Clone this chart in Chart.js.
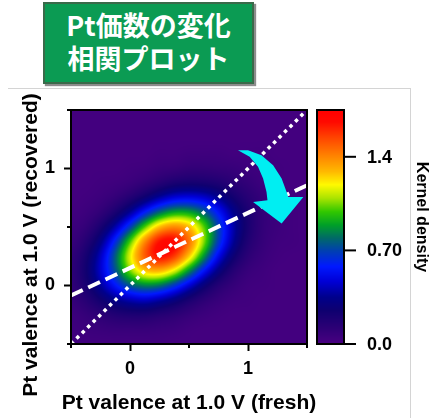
<!DOCTYPE html>
<html>
<head>
<meta charset="utf-8">
<script src="https://cdn.jsdelivr.net/npm/chart.js@4.4.0/dist/chart.umd.min.js"></script>
<style>
  html, body { margin: 0; padding: 0; background: #fff; }
  #wrap { position: relative; width: 436px; height: 418px; overflow: hidden; }
  #frame { position: absolute; left: 8px; top: 88px; width: 402px; height: 340px;
           border-top: 1px solid #d4d4d4; border-right: 1px solid #d4d4d4; }
  #title { position: absolute; left: 43px; top: 2px; width: 211px; height: 82px; box-sizing: border-box;
           background: #0b9b53; border: 2px solid #3a6a4a; box-shadow: 2px 2px 1px #8c8c8c;
           color: #fff; font: bold 27px "Noto Sans CJK JP", sans-serif; text-align: center;
           line-height: 33px; padding-top: 4px; }
  canvas { position: absolute; left: 0; top: 0; }
</style>
</head>
<body>
<div id="wrap">
  <div id="frame"></div>
  <div id="title">Pt価数の変化<br>相関プロット</div>
  <canvas id="kdeChart" width="436" height="418"></canvas>
</div>
<script>
// density grid (Kernel density), rows go from y = -0.5 (bottom) to y = 1.5 (top)
const gridX = [-0.5, -0.375, -0.25, -0.125, 0, 0.125, 0.25, 0.375, 0.5, 0.625, 0.75, 0.875, 1, 1.125, 1.25, 1.375, 1.5];
const gridY = [-0.5, -0.375, -0.25, -0.125, 0, 0.125, 0.25, 0.375, 0.5, 0.625, 0.75, 0.875, 1, 1.125, 1.25, 1.375, 1.5];
const density = [
    [0.04, 0.04, 0.04, 0.04, 0.04, 0.04, 0.04, 0.03, 0.03, 0.03, 0.03, 0.03, 0.03, 0.03, 0.03, 0.03, 0.03],
    [0.05, 0.06, 0.07, 0.08, 0.08, 0.08, 0.07, 0.06, 0.04, 0.03, 0.03, 0.03, 0.03, 0.03, 0.03, 0.03, 0.03],
    [0.06, 0.09, 0.13, 0.17, 0.19, 0.19, 0.16, 0.13, 0.09, 0.06, 0.04, 0.03, 0.03, 0.03, 0.03, 0.03, 0.03],
    [0.09, 0.15, 0.24, 0.34, 0.41, 0.44, 0.39, 0.31, 0.21, 0.13, 0.08, 0.05, 0.04, 0.03, 0.03, 0.03, 0.03],
    [0.11, 0.21, 0.37, 0.56, 0.74, 0.83, 0.80, 0.66, 0.47, 0.29, 0.16, 0.09, 0.05, 0.04, 0.03, 0.03, 0.03],
    [0.12, 0.24, 0.45, 0.73, 1.04, 1.26, 1.30, 1.15, 0.86, 0.56, 0.32, 0.16, 0.08, 0.05, 0.03, 0.03, 0.03],
    [0.11, 0.22, 0.43, 0.76, 1.15, 1.49, 1.65, 1.56, 1.26, 0.87, 0.51, 0.27, 0.13, 0.07, 0.04, 0.03, 0.03],
    [0.08, 0.16, 0.33, 0.62, 1.00, 1.39, 1.65, 1.67, 1.44, 1.06, 0.67, 0.37, 0.18, 0.09, 0.05, 0.04, 0.03],
    [0.06, 0.10, 0.21, 0.40, 0.68, 1.01, 1.29, 1.39, 1.29, 1.02, 0.69, 0.40, 0.21, 0.10, 0.06, 0.04, 0.03],
    [0.04, 0.06, 0.11, 0.21, 0.37, 0.59, 0.79, 0.91, 0.90, 0.77, 0.56, 0.35, 0.20, 0.10, 0.06, 0.04, 0.03],
    [0.03, 0.04, 0.06, 0.10, 0.17, 0.27, 0.39, 0.48, 0.50, 0.46, 0.36, 0.24, 0.15, 0.09, 0.05, 0.04, 0.03],
    [0.03, 0.03, 0.04, 0.05, 0.07, 0.11, 0.16, 0.21, 0.23, 0.22, 0.19, 0.14, 0.10, 0.06, 0.04, 0.03, 0.03],
    [0.03, 0.03, 0.03, 0.03, 0.04, 0.05, 0.07, 0.08, 0.10, 0.10, 0.09, 0.08, 0.06, 0.05, 0.04, 0.03, 0.03],
    [0.03, 0.03, 0.03, 0.03, 0.03, 0.03, 0.04, 0.04, 0.05, 0.05, 0.05, 0.04, 0.04, 0.04, 0.03, 0.03, 0.03],
    [0.03, 0.03, 0.03, 0.03, 0.03, 0.03, 0.03, 0.03, 0.03, 0.03, 0.03, 0.03, 0.03, 0.03, 0.03, 0.03, 0.03],
    [0.03, 0.03, 0.03, 0.03, 0.03, 0.03, 0.03, 0.03, 0.03, 0.03, 0.03, 0.03, 0.03, 0.03, 0.03, 0.03, 0.03],
    [0.03, 0.03, 0.03, 0.03, 0.03, 0.03, 0.03, 0.03, 0.03, 0.03, 0.03, 0.03, 0.03, 0.03, 0.03, 0.03, 0.03]
];

// y = x reference (dotted) and fitted line (dashed)
const diagX = [-0.5, 1.5];
const diagY = [-0.5, 1.5];
const fitX = [-0.5, 1.5];
const fitY = [-0.086, 0.857];

// curved arrow outline, in data units
const arrowX = [0.915, 1.0, 1.114, 1.213, 1.285, 1.327, 1.341, 1.469, 1.285, 1.043, 1.165, 1.157, 1.128, 1.085, 1.014];
const arrowY = [1.157, 1.157, 1.114, 1.028, 0.914, 0.8, 0.757, 0.757, 0.529, 0.714, 0.728, 0.8, 0.914, 1.014, 1.1];

// colour bar
const cbarMax = 1.75;
const cbarTicks = [0, 0.7, 1.4];
const cbarLabels = ['0.0', '0.70', '1.4'];
const cmapStops = [0, 0.12, 0.25, 0.35, 0.47, 0.58, 0.70, 0.79, 0.89, 0.99, 1.09, 1.19, 1.29, 1.41, 1.54, 1.66, 1.75];
const cmapColors = [[74, 0, 130], [45, 0, 118], [15, 0, 112], [0, 0, 140], [0, 0, 215], [0, 25, 255], [0, 65, 175],
    [0, 105, 105], [0, 160, 40], [50, 200, 0], [170, 228, 0], [255, 250, 0], [255, 185, 0], [255, 130, 0],
    [255, 70, 0], [255, 10, 0], [255, 0, 0]];

const FONT = 'Liberation Sans, Arial, sans-serif';

function colorAt(v) {
    if (v <= cmapStops[0]) return cmapColors[0];
    for (let i = 1; i < cmapStops.length; i++) {
        if (v <= cmapStops[i]) {
            const t = (v - cmapStops[i - 1]) / (cmapStops[i] - cmapStops[i - 1]);
            const a = cmapColors[i - 1], b = cmapColors[i];
            return [a[0] + (b[0] - a[0]) * t, a[1] + (b[1] - a[1]) * t, a[2] + (b[2] - a[2]) * t];
        }
    }
    return cmapColors[cmapColors.length - 1];
}

function cubic(p0, p1, p2, p3, t) {
    return p1 + 0.5 * t * (p2 - p0 + t * (2 * p0 - 5 * p1 + 4 * p2 - p3 + t * (3 * (p1 - p2) + p3 - p0)));
}

// smooth lookup in the density grid
function densityAt(vx, vy) {
    const n = gridX.length, m = gridY.length;
    const fx = (vx - gridX[0]) / (gridX[1] - gridX[0]);
    const fy = (vy - gridY[0]) / (gridY[1] - gridY[0]);
    const i = Math.min(Math.max(Math.floor(fx), 0), n - 2);
    const j = Math.min(Math.max(Math.floor(fy), 0), m - 2);
    const tx = fx - i, ty = fy - j;
    const cl = (k, max) => Math.min(Math.max(k, 0), max - 1);
    const rows = [];
    for (let r = -1; r <= 2; r++) {
        const row = density[cl(j + r, m)];
        rows.push(cubic(row[cl(i - 1, n)], row[cl(i, n)], row[cl(i + 1, n)], row[cl(i + 2, n)], tx));
    }
    return Math.max(0, cubic(rows[0], rows[1], rows[2], rows[3], ty));
}

const heatmapPlugin = {
    id: 'heatmap',
    beforeDatasetsDraw(chart) {
        const { ctx, chartArea: a, scales: { x, y } } = chart;
        const w = Math.round(a.right - a.left), h = Math.round(a.bottom - a.top);
        const off = document.createElement('canvas');
        off.width = w;
        off.height = h;
        const octx = off.getContext('2d');
        const img = octx.createImageData(w, h);
        for (let j = 0; j < h; j++) {
            const vy = y.getValueForPixel(a.top + j + 0.5);
            for (let i = 0; i < w; i++) {
                const vx = x.getValueForPixel(a.left + i + 0.5);
                const c = colorAt(densityAt(vx, vy));
                const k = (j * w + i) * 4;
                img.data[k] = c[0];
                img.data[k + 1] = c[1];
                img.data[k + 2] = c[2];
                img.data[k + 3] = 255;
            }
        }
        octx.putImageData(img, 0, 0);
        ctx.drawImage(off, a.left, a.top);
    }
};

const decorPlugin = {
    id: 'decor',
    afterDatasetsDraw(chart) {
        const { ctx, chartArea: a, scales: { x, y } } = chart;
        // arrow
        ctx.save();
        ctx.beginPath();
        arrowX.forEach((vx, i) => {
            const px = x.getPixelForValue(vx), py = y.getPixelForValue(arrowY[i]);
            if (i === 0) ctx.moveTo(px, py); else ctx.lineTo(px, py);
        });
        ctx.closePath();
        ctx.fillStyle = '#00eef2';
        ctx.fill();
        ctx.restore();

        // frame
        ctx.save();
        ctx.strokeStyle = '#000';
        ctx.lineWidth = 2;
        ctx.strokeRect(a.left, a.top, a.right - a.left, a.bottom - a.top);
        // short minor ticks
        ctx.beginPath();
        x.ticks.forEach(t => {
            if (Number.isInteger(t.value)) return;
            const px = x.getPixelForValue(t.value);
            ctx.moveTo(px, a.bottom);
            ctx.lineTo(px, a.bottom + 4);
        });
        y.ticks.forEach(t => {
            if (Number.isInteger(t.value)) return;
            const py = y.getPixelForValue(t.value);
            ctx.moveTo(a.left, py);
            ctx.lineTo(a.left - 4, py);
        });
        ctx.stroke();
        ctx.restore();
    },
    afterDraw(chart) {
        const { ctx, chartArea: a } = chart;
        const c = chart.scales.c;
        const left = a.right + 10, right = a.right + 37;
        ctx.save();
        for (let py = Math.floor(c.top); py < Math.ceil(c.bottom); py++) {
            const col = colorAt(c.getValueForPixel(py + 0.5));
            ctx.fillStyle = `rgb(${col[0] | 0},${col[1] | 0},${col[2] | 0})`;
            ctx.fillRect(left, py, right - left, 1);
        }
        ctx.strokeStyle = '#000';
        ctx.lineWidth = 2;
        ctx.strokeRect(left, c.top, right - left, c.bottom - c.top);
        ctx.fillStyle = '#000';
        ctx.font = `bold 18px ${FONT}`;
        ctx.textAlign = 'left';
        ctx.textBaseline = 'middle';
        cbarTicks.forEach((v, i) => {
            const py = c.getPixelForValue(v);
            ctx.beginPath();
            ctx.moveTo(right, py);
            ctx.lineTo(right + 12, py);
            ctx.stroke();
            ctx.fillText(cbarLabels[i], right + 23, py + 1);
        });
        // colour bar title
        ctx.save();
        ctx.translate(421, 217);
        ctx.rotate(Math.PI / 2);
        ctx.textAlign = 'center';
        ctx.font = `bold 16px ${FONT}`;
        ctx.fillText('Kernel density', 0, 0);
        ctx.restore();
        // axis titles
        ctx.font = `bold 21px ${FONT}`;
        ctx.textAlign = 'center';
        ctx.fillText('Pt valence at 1.0 V (fresh)', (a.left + a.right) / 2, 403);
        ctx.save();
        ctx.translate(31, 245);
        ctx.rotate(-Math.PI / 2);
        ctx.fillText('Pt valence at 1.0 V (recovered)', 0, 0);
        ctx.restore();
        ctx.restore();
    }
};

const tickColor = ctx => Number.isInteger(ctx.tick.value) ? '#000' : 'rgba(0,0,0,0)';

new Chart(document.getElementById('kdeChart'), {
    type: 'scatter',
    data: {
        datasets: [
            {
                label: 'y = x',
                data: diagX.map((v, i) => ({ x: v, y: diagY[i] })),
                showLine: true,
                borderColor: '#fff',
                borderWidth: 3.5,
                borderDash: [3.5, 4.2],
                borderCapStyle: 'butt',
                pointRadius: 0
            },
            {
                label: 'fit',
                data: fitX.map((v, i) => ({ x: v, y: fitY[i] })),
                showLine: true,
                borderColor: '#fff',
                borderWidth: 4,
                borderDash: [13, 6],
                borderCapStyle: 'butt',
                pointRadius: 0
            }
        ]
    },
    options: {
        responsive: false,
        animation: false,
        layout: { padding: { top: 110, right: 129, left: 0, bottom: 0 } },
        plugins: { legend: { display: false }, tooltip: { enabled: false } },
        scales: {
            x: {
                type: 'linear',
                min: -0.5,
                max: 1.5,
                afterFit: s => { s.height = 74; },
                border: { display: false },
                grid: { drawOnChartArea: false, tickLength: 7, tickWidth: 2, color: tickColor },
                ticks: {
                    stepSize: 0.5,
                    autoSkip: false,
                    maxRotation: 0,
                    padding: 7,
                    color: '#000',
                    font: { family: FONT, weight: 'bold', size: 18 },
                    callback: v => Number.isInteger(v) ? String(v) : ''
                }
            },
            y: {
                type: 'linear',
                min: -0.5,
                max: 1.5,
                afterFit: s => { s.width = 71; },
                border: { display: false },
                grid: { drawOnChartArea: false, tickLength: 7, tickWidth: 2, color: tickColor },
                ticks: {
                    stepSize: 0.5,
                    autoSkip: false,
                    padding: 9,
                    color: '#000',
                    font: { family: FONT, weight: 'bold', size: 18 },
                    callback: v => Number.isInteger(v) ? String(v) : ''
                }
            },
            c: {
                type: 'linear',
                position: 'right',
                display: false,
                min: 0,
                max: cbarMax
            }
        }
    },
    plugins: [heatmapPlugin, decorPlugin]
});
</script>
</body>
</html>
